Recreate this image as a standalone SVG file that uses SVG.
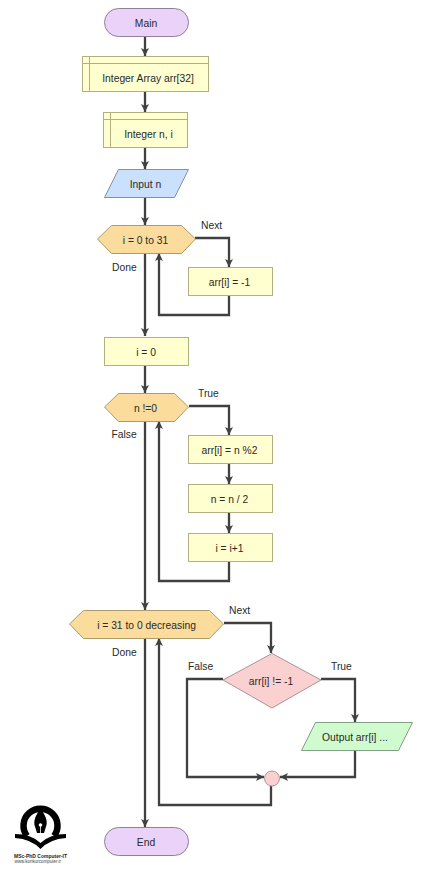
<svg xmlns="http://www.w3.org/2000/svg" width="427" height="872" viewBox="0 0 427 872">
<defs>
<marker id="arrow" markerUnits="userSpaceOnUse" markerWidth="10" markerHeight="10" refX="8" refY="4.500" orient="auto"><path d="M0,0.500 L8,4.500 L0,8.500 L2,4.500 Z" fill="#404040"/></marker>
</defs>
<style>
text{font-family:"Liberation Sans",Arial,sans-serif;font-size:10.300px;fill:#2a2a2a}
.c{text-anchor:middle}
.ln{fill:none;stroke:#404040;stroke-width:2.300}
.term{fill:#ebd2f9;stroke:#8f8198}
.box{fill:#ffffd0;stroke:#b0b080}
.in{fill:#cbe0fc;stroke:#8391a8}
.out{fill:#cffbcf;stroke:#82a082}
.loop{fill:#fbdc9c;stroke:#ab9c6c}
.dec{fill:#fbd0d0;stroke:#ab9494}
.thin{fill:none;stroke:#b0b080}
</style>
<rect width="427" height="872" fill="#fff"/>
<g id="connectors">
<path class="ln" marker-end="url(#arrow)" d="M145 36V56"/>
<path class="ln" marker-end="url(#arrow)" d="M145 91V112"/>
<path class="ln" marker-end="url(#arrow)" d="M145 147V169"/>
<path class="ln" marker-end="url(#arrow)" d="M145 197V225"/>
<path class="ln" marker-end="url(#arrow)" d="M195 238H229V267"/>
<path class="ln" marker-end="url(#arrow)" d="M229 295V315H159V253"/>
<path class="ln" marker-end="url(#arrow)" d="M145 253V336"/>
<path class="ln" marker-end="url(#arrow)" d="M145 366V393"/>
<path class="ln" marker-end="url(#arrow)" d="M189 406H229V435"/>
<path class="ln" marker-end="url(#arrow)" d="M229 463V484"/>
<path class="ln" marker-end="url(#arrow)" d="M229 512V533"/>
<path class="ln" marker-end="url(#arrow)" d="M229 561V581H159V421"/>
<path class="ln" marker-end="url(#arrow)" d="M145 421V610"/>
<path class="ln" marker-end="url(#arrow)" d="M224 623H271V653"/>
<path class="ln" marker-end="url(#arrow)" d="M321 679H355V722"/>
<path class="ln" marker-end="url(#arrow)" d="M355 750V777H280"/>
<path class="ln" marker-end="url(#arrow)" d="M223 679H187V777H264"/>
<path class="ln" marker-end="url(#arrow)" d="M271 786V805H159V638"/>
<path class="ln" marker-end="url(#arrow)" d="M145 638V827"/>
</g>
<g id="main"><rect class="term" x="104.500" y="8.500" width="84" height="28" rx="14"/><text class="c" x="146" y="26.500">Main</text></g>
<g id="decl-arr"><rect class="box" x="82.500" y="56.500" width="126" height="35"/><path class="thin" d="M89.500 56.500V91.500M82.500 63.500H208.500"/><text class="c" x="148" y="82">Integer Array arr[32]</text></g>
<g id="decl-n"><rect class="box" x="103.500" y="112.500" width="84" height="35"/><path class="thin" d="M110.500 112.500V147.500M103.500 119.500H187.500"/><text class="c" x="148.500" y="138">Integer n, i</text></g>
<g id="input-n"><polygon class="in" points="118.500,169.500 188.500,169.500 174.500,197.500 104.500,197.500"/><text class="c" x="145.500" y="188">Input n</text></g>
<g id="loop1"><polygon class="loop" points="97.500,239 111.500,225.500 181.500,225.500 195.500,239 181.500,253.500 111.500,253.500"/><text class="c" x="145.500" y="243.500">i = 0 to 31</text></g>
<g id="fill"><rect class="box" x="188.500" y="267.500" width="84" height="28"/><text class="c" x="229.500" y="286">arr[i] = -1</text></g>
<g id="init-i"><rect class="box" x="104.500" y="337.500" width="84" height="28"/><text class="c" x="146" y="355.500">i = 0</text></g>
<g id="while"><polygon class="loop" points="104.500,407 118.500,393.500 174.500,393.500 188.500,407 174.500,421.500 118.500,421.500"/><text class="c" x="145.500" y="411.500">n !=0</text></g>
<g id="mod"><rect class="box" x="188.500" y="435.500" width="84" height="28"/><text class="c" x="229.500" y="454">arr[i] = n %2</text></g>
<g id="div"><rect class="box" x="188.500" y="484.500" width="84" height="28"/><text class="c" x="229.500" y="503">n = n / 2</text></g>
<g id="inc"><rect class="box" x="188.500" y="533.500" width="84" height="28"/><text class="c" x="229.500" y="551.500">i = i+1</text></g>
<g id="loop2"><polygon class="loop" points="69.500,624 83.500,610.500 209.500,610.500 223.500,624 209.500,638.500 83.500,638.500"/><text class="c" x="146.500" y="628.500">i = 31 to 0 decreasing</text></g>
<g id="check"><polygon class="dec" points="272,653.500 321,680 272,708 223,680"/><text class="c" x="271" y="684.500">arr[i] != -1</text></g>
<g id="output"><polygon class="out" points="315.500,722.500 412.500,722.500 398.500,750.500 301.500,750.500"/><text class="c" x="355" y="741">Output arr[i] ...</text></g>
<g id="merge"><circle class="dec" cx="272" cy="778.500" r="7.500"/></g>
<g id="end"><rect class="term" x="104.500" y="827.500" width="84" height="28" rx="14"/><text class="c" x="146" y="845.500">End</text></g>
<g id="labels">
<text x="201" y="228.500">Next</text>
<text x="112" y="270.500">Done</text>
<text x="198" y="396.500">True</text>
<text x="111.500" y="437.500">False</text>
<text x="229" y="613.500">Next</text>
<text x="112" y="655.500">Done</text>
<text x="188" y="669.500">False</text>
<text x="331" y="669.500">True</text>
</g>
<g id="logo">
<path d="M27 836A17 17 0 1 1 54 836" fill="none" stroke="#000" stroke-width="6.500"/>
<path d="M15 834Q31 834 40.500 843Q50 834 66 834L66 838Q50 839 40.500 849Q31 839 15 838Z" fill="#000"/>
<path d="M40.500 808C45 815 47.500 820 46.500 825L44 833H37L34.500 825C33.500 820 36 815 40.500 808Z" fill="#000"/>
<circle cx="40.500" cy="825" r="1.800" fill="#fff"/>
<path d="M40.500 826V833" stroke="#fff" stroke-width="0.800"/>
<text x="14" y="858" style="font-size:5px;font-weight:700;fill:#222">MSc-PhD Computer-IT</text>
<text x="14.500" y="862.500" style="font-size:4.500px;fill:#444">www.konkurcomputer.ir</text>
</g>
</svg>
